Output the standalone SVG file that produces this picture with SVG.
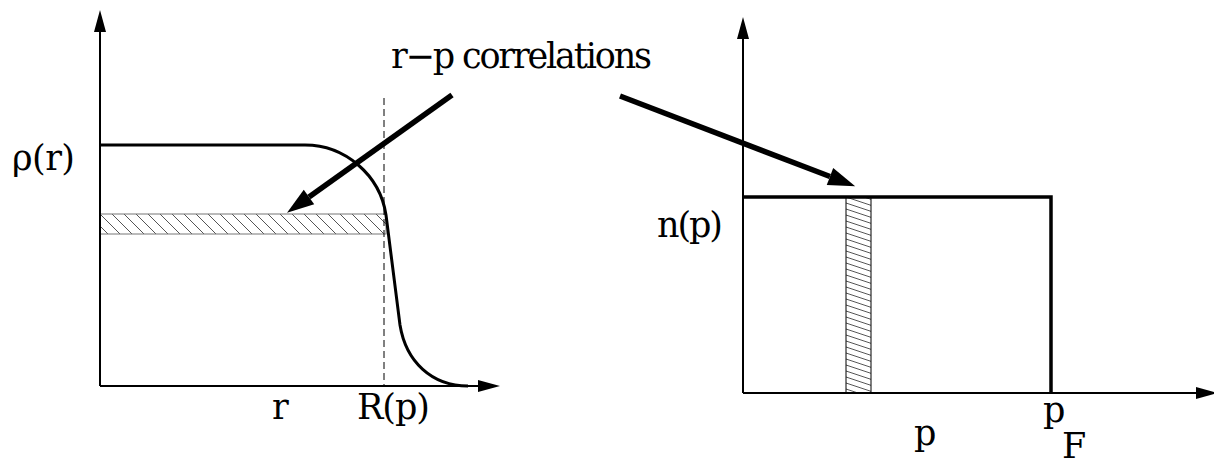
<svg xmlns="http://www.w3.org/2000/svg" width="1214" height="464" viewBox="0 0 1214 464">
<style>
.axis{fill:none;stroke:#000;stroke-width:2}
.thick{fill:none;stroke:#000;stroke-width:3.5}
.pointer{fill:none;stroke:#000;stroke-width:5.5}
.lbl{font-family:"DejaVu Serif",serif;font-size:35px;fill:#000}
.hatchline{stroke:#555;stroke-width:1}
</style>
<defs>
<marker id="axhead" markerUnits="userSpaceOnUse" markerWidth="24" markerHeight="14" refX="0" refY="6" orient="auto" viewBox="0 0 24 12" overflow="visible">
<path d="M0,0 L22,6 L0,12 z" fill="#000"/>
</marker>
<marker id="bighead" markerUnits="userSpaceOnUse" markerWidth="28" markerHeight="20" refX="0" refY="9" orient="auto" viewBox="0 0 28 18" overflow="visible">
<path d="M0,0 L27,9 L0,18 z" fill="#000"/>
</marker>
<pattern id="hatchA" patternUnits="userSpaceOnUse" width="12" height="12" x="100" y="214">
<path d="M0,0 L12,12 M-12,0 L0,12 M12,0 L24,12" class="hatchline"/>
</pattern>
<pattern id="hatchB" patternUnits="userSpaceOnUse" width="18" height="6" x="846" y="197">
<path d="M0,0 L18,6 M0,-6 L18,0 M0,6 L18,12" class="hatchline"/>
</pattern>
</defs>

<g id="left-plot">
<rect x="100" y="214" width="286" height="20" fill="url(#hatchA)" stroke="#777" stroke-width="1"/>
<line x1="384" y1="98" x2="384" y2="386" stroke="#000" stroke-width="1" stroke-dasharray="7,4"/>
<path class="axis" d="M100,386 L100,32" marker-end="url(#axhead)"/>
<path class="axis" d="M100,386 L478,386" marker-end="url(#axhead)"/>
<path d="M100,145 L305,145 C345,145 380,175 386,215 L400,325 C406,362 432,386 468,386" fill="none" stroke="#000" stroke-width="3"/>
<text class="lbl" x="12" y="170" textLength="63">ρ(r)</text>
<text class="lbl" x="272" y="419">r</text>
<text class="lbl" x="357" y="419" textLength="73">R(p)</text>
</g>

<g id="right-plot">
<rect x="846" y="197" width="25" height="196" fill="url(#hatchB)" stroke="#000" stroke-width="1"/>
<path class="axis" d="M743,393 L743,39" marker-end="url(#axhead)"/>
<path class="axis" d="M743,393 L1196,393" marker-end="url(#axhead)"/>
<path class="thick" d="M743,197 L1051,197 L1051,393"/>
<text class="lbl" x="657" y="237" textLength="66">n(p)</text>
<text class="lbl" x="914" y="445">p</text>
<text class="lbl" x="1043" y="422">p</text>
<text class="lbl" x="1062" y="458">F</text>
</g>

<g id="label">
<text class="lbl" x="391" y="68" textLength="261">r−p correlations</text>
</g>

<g id="connectors">
<path class="pointer" d="M452,95 L309,197" marker-end="url(#bighead)"/>
<path class="pointer" d="M620,96 L830,176.5" marker-end="url(#bighead)"/>
</g>
</svg>
